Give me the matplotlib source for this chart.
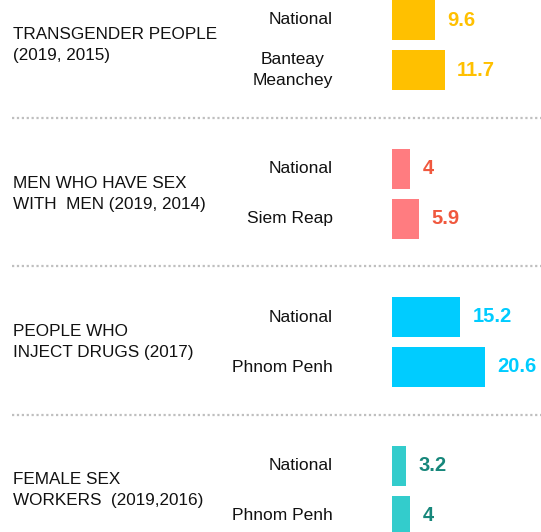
import matplotlib
matplotlib.use("Agg")
import matplotlib.pyplot as plt
import matplotlib.transforms as mtransforms

# data
groups = ["TRANSGENDER PEOPLE\n(2019, 2015)",
          "MEN WHO HAVE SEX\nWITH  MEN (2019, 2014)",
          "PEOPLE WHO\nINJECT DRUGS (2017)",
          "FEMALE SEX\nWORKERS  (2019,2016)"]
places = [["National", "Banteay\nMeanchey"],
          ["National", "Siem Reap"],
          ["National", "Phnom Penh"],
          ["National", "Phnom Penh"]]
values = [[9.6, 11.7],
          [4, 5.9],
          [15.2, 20.6],
          [3.2, 4]]

bar_colors = ["#FFC000", "#FF7C80", "#00CCFF", "#33CCCC"]
text_colors = ["#FFC000", "#F0583E", "#00CCFF", "#17877B"]

label_font = ["Liberation Sans", "DejaVu Sans"]

fig = plt.figure(figsize=(5.41, 5.32), dpi=100)
ax = fig.add_axes([0, 0, 1, 1])
ax.axis("off")

pitch = 2.97
ax.set_xlim(-87.1, 33.1)
ax.set_ylim(10.24, -0.4)

trans = mtransforms.blended_transform_factory(ax.transAxes, ax.transData)

for g, name in enumerate(groups):
    y0 = g * pitch
    for j in range(2):
        y = y0 + j
        v = values[g][j]
        ax.barh(y, v, height=0.8, color=bar_colors[g], left=0)
        ax.annotate(f"{v:g}", xy=(v, y), xytext=(9, 0), textcoords="offset points",
                    ha="left", va="center", fontsize=14.5, fontweight="bold",
                    color=text_colors[g], family=label_font)
        ax.text(0.6155, y, places[g][j], transform=trans, ha="right", va="center",
                multialignment="center", fontsize=12.5, color="#111111",
                family=label_font, linespacing=1.55)
    ax.text(0.024, y0 + 0.5, name, transform=trans, ha="left", va="center",
            fontsize=12.3, color="#111111", family=label_font, linespacing=1.5)
    if g < len(groups) - 1:
        ax.plot([0.022, 1.0], [y0 + 1.95, y0 + 1.95], transform=trans,
                color="#BFBFBF", lw=1.6, linestyle=(0, (1, 1.2)))

fig.savefig("out.png", dpi=100)
